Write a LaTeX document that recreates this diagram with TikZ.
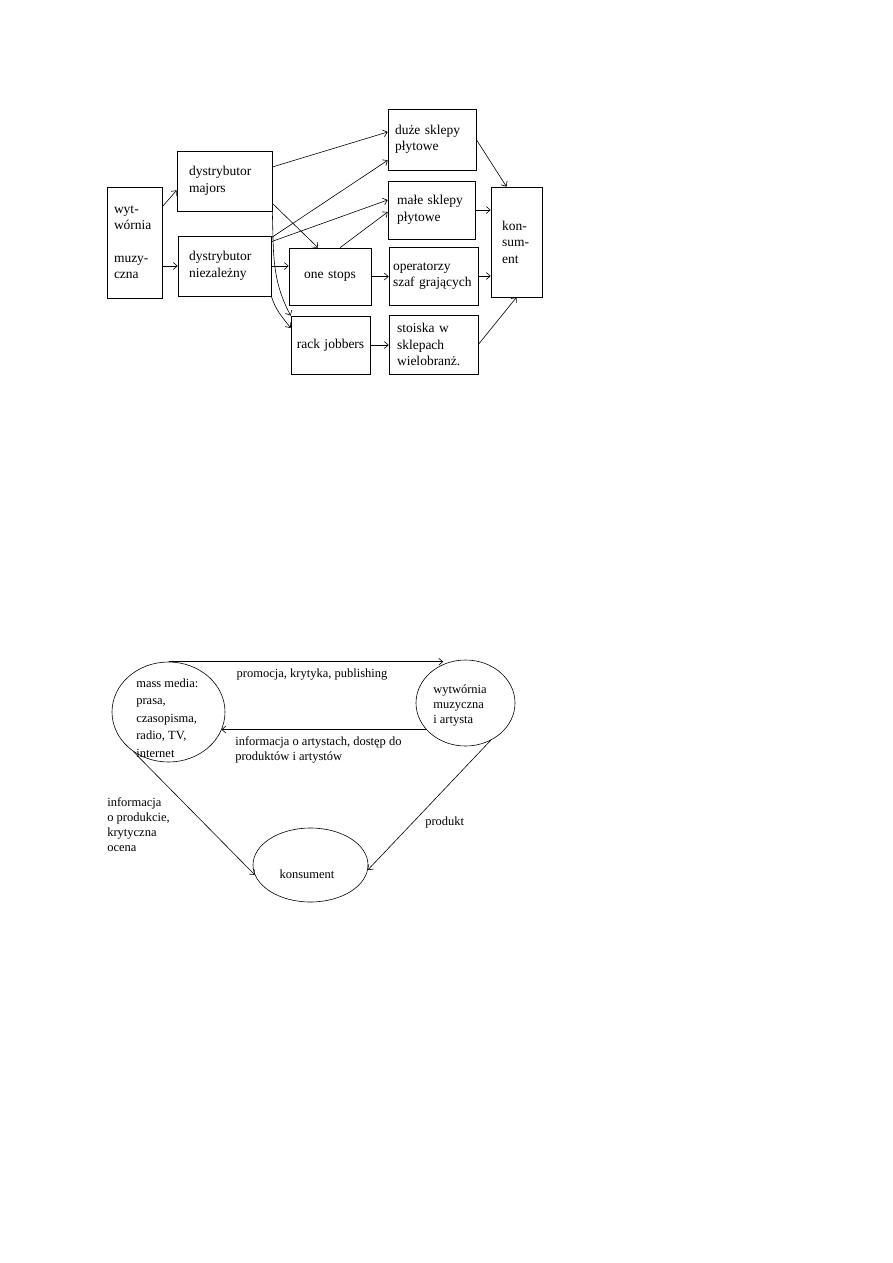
\documentclass[tikz,border=0pt]{standalone}
\usepackage{fontspec}
\setmainfont{Liberation Serif}
\usetikzlibrary{arrows.meta,shapes.geometric}

\newcommand{\boxfont}{\fontsize{13.5}{16.5}\selectfont}
\newcommand{\ovalfont}{\fontsize{12.5}{15}\selectfont}

\tikzset{
  box/.style={draw, align=left, inner ysep=0pt, font=\boxfont},
  oval/.style={draw, ellipse, inner sep=0pt},
  lbl/.style={align=left, inner sep=0pt, font=\ovalfont},
}

\begin{document}
\begin{tikzpicture}[x=1pt, y=-1pt, >={Straight Barb[length=4pt,width=7pt]}, line width=0.6pt]
    \useasboundingbox (0,0) rectangle (893,1263);
    % distribution channels
    \node[box, text width=41pt, inner xsep=7pt, minimum height=111pt] (wyt) at (134.5,242.5) {wyt-\\wórnia\\[16pt]muzy-\\czna};
    \node[box, text width=71pt, inner xsep=12pt, minimum height=60pt] (maj) at (224.5,181) {dystrybutor\\majors};
    \node[box, text width=71pt, inner xsep=11pt, minimum height=60pt] (nie) at (224.5,266) {dystrybutor\\niezależny};
    \node[box, text width=74pt, inner xsep=7pt, minimum height=61pt] (duze) at (432,139.5) {duże sklepy\\płytowe};
    \node[box, text width=69pt, inner xsep=9pt, minimum height=58pt] (male) at (431.5,210) {małe sklepy\\płytowe};
    \node[box, align=center, text width=66pt, inner xsep=8pt, minimum height=57pt] (one) at (330,276.5) {one stops};
    \node[box, text width=81pt, inner xsep=4pt, minimum height=58pt] (oper) at (433.5,276) {operatorzy\\szaf grających};
    \node[box, align=center, text width=71pt, inner xsep=4pt, minimum height=58pt] (rack) at (330.5,345) {rack jobbers};
    \node[box, text width=73pt, inner xsep=8pt, minimum height=59pt] (stoi) at (433.5,344.5) {stoiska w\\sklepach\\wielobranż.};
    \node[box, text width=29pt, inner xsep=11pt, minimum height=110pt] (kons) at (516.5,242) {kon-\\sum-\\ent};
    % arrows
    \draw[->] ([yshift=-20pt]wyt.north east) -- ([yshift=21pt]maj.south west);
    \draw[->] (wyt.east |- nie.west) -- (nie.west);
    \draw[->] ([yshift=14pt]maj.east) -- ([yshift=7.5pt]duze.west);
    \draw[->] ([yshift=8pt]maj.south east) -- ([xshift=-12pt]one.north);
    \draw[->] (maj.south east) to[out=-88,in=118] (rack.north west);
    \draw[->] ([yshift=-2pt]nie.north east) -- ([yshift=10pt]duze.south west);
    \draw[->] ([yshift=-6pt]nie.north east) -- ([yshift=10pt]male.west);
    \draw[->] (nie.east) -- (nie.east -| one.west);
    \draw[->] (nie.south east) to[out=-72,in=128] ([yshift=17pt]rack.west);
    \draw[->] ([xshift=10pt]one.north) -- ([yshift=-2pt]male.west);
    \draw[->] (one.east) -- (one.east -| oper.west);
    \draw[->] (rack.east) -- (rack.east -| stoi.west);
    \draw[->] (duze.east) -- ([xshift=-10pt]kons.north);
    \draw[->] (male.east) -- (male.east -| kons.west);
    \draw[->] (oper.east) -- (oper.east -| kons.west);
    \draw[->] (stoi.east) -- (kons.south);

    % media, label and consumer
    \node[oval, minimum width=113pt, minimum height=100pt] (mm) at (168.5,712) {};
    \node[lbl, anchor=west, font={\fontsize{12.5}{17.5}\selectfont}] (mmtxt) at (136,718) {mass media:\\prasa,\\czasopisma,\\radio, TV,\\internet};
    \node[oval, minimum width=99pt, minimum height=86pt] (wyt2) at (465.5,703) {};
    \node[lbl, anchor=west] (wyt2txt) at (433,705) {wytwórnia\\muzyczna\\i artysta};
    \node[oval, minimum width=115pt, minimum height=74pt] (kon2) at (310.5,865) {};
    \node[lbl] (kon2txt) at (307,874) {konsument};
    \draw[->] (mm.north) -- (mm.north -| wyt2.120);
    \draw[->] (wyt2.214) -- (mm.341 |- wyt2.214);
    \draw[->] (mm.228) -- (kon2.190);
    \draw[->] (wyt2.304) -- (kon2.355);
    \node[lbl] (promo) at (312,675) {promocja, krytyka, publishing};
    \node[lbl, anchor=west] (info) at (235,749.5) {informacja o artystach, dostęp do\\produktów i artystów};
    \node[lbl, anchor=west] (infoprod) at (107,824.5) {informacja\\o produkcie,\\krytyczna\\ocena};
    \node[lbl, anchor=west] (prod) at (425,822) {produkt};
  \end{tikzpicture}
\end{document}
